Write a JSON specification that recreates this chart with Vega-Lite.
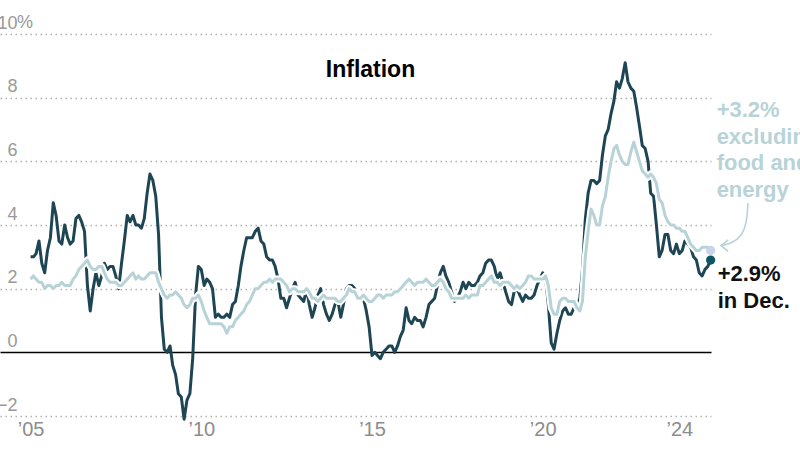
{
  "$schema": "https://vega.github.io/schema/vega-lite/v6.json",
  "autosize": {"type": "none"},
  "width": 711,
  "height": 382,
  "padding": {"left": 0, "top": 34, "right": 89, "bottom": 34},
  "background": "white",
  "config": {"view": {"stroke": null}, "font": "Liberation Sans"},
  "datasets": {
    "cpi": [
      {"date":"2005-01-01","headline":3.0,"core":2.3},{"date":"2005-02-01","headline":3.0,"core":2.4},{"date":"2005-03-01","headline":3.1,"core":2.3},{"date":"2005-04-01","headline":3.5,"core":2.2},{"date":"2005-05-01","headline":2.8,"core":2.2},{"date":"2005-06-01","headline":2.5,"core":2.0},{"date":"2005-07-01","headline":3.2,"core":2.1},{"date":"2005-08-01","headline":3.6,"core":2.1},{"date":"2005-09-01","headline":4.7,"core":2.0},{"date":"2005-10-01","headline":4.3,"core":2.1},{"date":"2005-11-01","headline":3.5,"core":2.1},{"date":"2005-12-01","headline":3.4,"core":2.2},
      {"date":"2006-01-01","headline":4.0,"core":2.1},{"date":"2006-02-01","headline":3.6,"core":2.1},{"date":"2006-03-01","headline":3.4,"core":2.1},{"date":"2006-04-01","headline":3.5,"core":2.3},{"date":"2006-05-01","headline":4.2,"core":2.4},{"date":"2006-06-01","headline":4.3,"core":2.6},{"date":"2006-07-01","headline":4.1,"core":2.7},{"date":"2006-08-01","headline":3.8,"core":2.8},{"date":"2006-09-01","headline":2.1,"core":2.9},{"date":"2006-10-01","headline":1.3,"core":2.7},{"date":"2006-11-01","headline":2.0,"core":2.6},{"date":"2006-12-01","headline":2.5,"core":2.6},
      {"date":"2007-01-01","headline":2.1,"core":2.7},{"date":"2007-02-01","headline":2.4,"core":2.7},{"date":"2007-03-01","headline":2.8,"core":2.5},{"date":"2007-04-01","headline":2.6,"core":2.3},{"date":"2007-05-01","headline":2.7,"core":2.2},{"date":"2007-06-01","headline":2.7,"core":2.2},{"date":"2007-07-01","headline":2.4,"core":2.2},{"date":"2007-08-01","headline":2.0,"core":2.1},{"date":"2007-09-01","headline":2.8,"core":2.1},{"date":"2007-10-01","headline":3.5,"core":2.2},{"date":"2007-11-01","headline":4.3,"core":2.3},{"date":"2007-12-01","headline":4.1,"core":2.4},
      {"date":"2008-01-01","headline":4.3,"core":2.5},{"date":"2008-02-01","headline":4.0,"core":2.3},{"date":"2008-03-01","headline":4.0,"core":2.4},{"date":"2008-04-01","headline":3.9,"core":2.3},{"date":"2008-05-01","headline":4.2,"core":2.3},{"date":"2008-06-01","headline":5.0,"core":2.4},{"date":"2008-07-01","headline":5.6,"core":2.5},{"date":"2008-08-01","headline":5.4,"core":2.5},{"date":"2008-09-01","headline":4.9,"core":2.5},{"date":"2008-10-01","headline":3.7,"core":2.2},{"date":"2008-11-01","headline":1.1,"core":2.0},{"date":"2008-12-01","headline":0.1,"core":1.8},
      {"date":"2009-01-01","headline":0.0,"core":1.7},{"date":"2009-02-01","headline":0.2,"core":1.8},{"date":"2009-03-01","headline":-0.4,"core":1.8},{"date":"2009-04-01","headline":-0.7,"core":1.9},{"date":"2009-05-01","headline":-1.3,"core":1.8},{"date":"2009-06-01","headline":-1.4,"core":1.7},{"date":"2009-07-01","headline":-2.1,"core":1.5},{"date":"2009-08-01","headline":-1.5,"core":1.4},{"date":"2009-09-01","headline":-1.3,"core":1.5},{"date":"2009-10-01","headline":-0.2,"core":1.7},{"date":"2009-11-01","headline":1.8,"core":1.7},{"date":"2009-12-01","headline":2.7,"core":1.8},
      {"date":"2010-01-01","headline":2.6,"core":1.6},{"date":"2010-02-01","headline":2.1,"core":1.3},{"date":"2010-03-01","headline":2.3,"core":1.1},{"date":"2010-04-01","headline":2.2,"core":0.9},{"date":"2010-05-01","headline":2.0,"core":0.9},{"date":"2010-06-01","headline":1.1,"core":0.9},{"date":"2010-07-01","headline":1.2,"core":0.9},{"date":"2010-08-01","headline":1.1,"core":0.9},{"date":"2010-09-01","headline":1.1,"core":0.8},{"date":"2010-10-01","headline":1.2,"core":0.6},{"date":"2010-11-01","headline":1.1,"core":0.8},{"date":"2010-12-01","headline":1.5,"core":0.8},
      {"date":"2011-01-01","headline":1.6,"core":1.0},{"date":"2011-02-01","headline":2.1,"core":1.1},{"date":"2011-03-01","headline":2.7,"core":1.2},{"date":"2011-04-01","headline":3.2,"core":1.3},{"date":"2011-05-01","headline":3.6,"core":1.5},{"date":"2011-06-01","headline":3.6,"core":1.6},{"date":"2011-07-01","headline":3.6,"core":1.8},{"date":"2011-08-01","headline":3.8,"core":2.0},{"date":"2011-09-01","headline":3.9,"core":2.0},{"date":"2011-10-01","headline":3.5,"core":2.1},{"date":"2011-11-01","headline":3.4,"core":2.2},{"date":"2011-12-01","headline":3.0,"core":2.2},
      {"date":"2012-01-01","headline":2.9,"core":2.3},{"date":"2012-02-01","headline":2.9,"core":2.2},{"date":"2012-03-01","headline":2.7,"core":2.3},{"date":"2012-04-01","headline":2.3,"core":2.3},{"date":"2012-05-01","headline":1.7,"core":2.3},{"date":"2012-06-01","headline":1.7,"core":2.2},{"date":"2012-07-01","headline":1.4,"core":2.1},{"date":"2012-08-01","headline":1.7,"core":1.9},{"date":"2012-09-01","headline":2.0,"core":2.0},{"date":"2012-10-01","headline":2.2,"core":2.0},{"date":"2012-11-01","headline":1.8,"core":1.9},{"date":"2012-12-01","headline":1.7,"core":1.9},
      {"date":"2013-01-01","headline":1.6,"core":1.9},{"date":"2013-02-01","headline":2.0,"core":2.0},{"date":"2013-03-01","headline":1.5,"core":1.9},{"date":"2013-04-01","headline":1.1,"core":1.7},{"date":"2013-05-01","headline":1.4,"core":1.7},{"date":"2013-06-01","headline":1.8,"core":1.6},{"date":"2013-07-01","headline":2.0,"core":1.7},{"date":"2013-08-01","headline":1.5,"core":1.8},{"date":"2013-09-01","headline":1.2,"core":1.7},{"date":"2013-10-01","headline":1.0,"core":1.7},{"date":"2013-11-01","headline":1.2,"core":1.7},{"date":"2013-12-01","headline":1.5,"core":1.7},
      {"date":"2014-01-01","headline":1.6,"core":1.6},{"date":"2014-02-01","headline":1.1,"core":1.6},{"date":"2014-03-01","headline":1.5,"core":1.7},{"date":"2014-04-01","headline":2.0,"core":1.8},{"date":"2014-05-01","headline":2.1,"core":2.0},{"date":"2014-06-01","headline":2.1,"core":1.9},{"date":"2014-07-01","headline":2.0,"core":1.9},{"date":"2014-08-01","headline":1.7,"core":1.7},{"date":"2014-09-01","headline":1.7,"core":1.7},{"date":"2014-10-01","headline":1.7,"core":1.8},{"date":"2014-11-01","headline":1.3,"core":1.7},{"date":"2014-12-01","headline":0.8,"core":1.6},
      {"date":"2015-01-01","headline":-0.1,"core":1.6},{"date":"2015-02-01","headline":0.0,"core":1.7},{"date":"2015-03-01","headline":-0.1,"core":1.8},{"date":"2015-04-01","headline":-0.2,"core":1.8},{"date":"2015-05-01","headline":0.0,"core":1.7},{"date":"2015-06-01","headline":0.1,"core":1.8},{"date":"2015-07-01","headline":0.2,"core":1.8},{"date":"2015-08-01","headline":0.2,"core":1.8},{"date":"2015-09-01","headline":0.0,"core":1.9},{"date":"2015-10-01","headline":0.2,"core":1.9},{"date":"2015-11-01","headline":0.5,"core":2.0},{"date":"2015-12-01","headline":0.7,"core":2.1},
      {"date":"2016-01-01","headline":1.4,"core":2.2},{"date":"2016-02-01","headline":1.0,"core":2.3},{"date":"2016-03-01","headline":0.9,"core":2.2},{"date":"2016-04-01","headline":1.1,"core":2.1},{"date":"2016-05-01","headline":1.0,"core":2.2},{"date":"2016-06-01","headline":1.0,"core":2.2},{"date":"2016-07-01","headline":0.8,"core":2.2},{"date":"2016-08-01","headline":1.1,"core":2.3},{"date":"2016-09-01","headline":1.5,"core":2.2},{"date":"2016-10-01","headline":1.6,"core":2.1},{"date":"2016-11-01","headline":1.7,"core":2.1},{"date":"2016-12-01","headline":2.1,"core":2.2},
      {"date":"2017-01-01","headline":2.5,"core":2.3},{"date":"2017-02-01","headline":2.7,"core":2.2},{"date":"2017-03-01","headline":2.4,"core":2.0},{"date":"2017-04-01","headline":2.2,"core":1.9},{"date":"2017-05-01","headline":1.9,"core":1.7},{"date":"2017-06-01","headline":1.6,"core":1.7},{"date":"2017-07-01","headline":1.7,"core":1.7},{"date":"2017-08-01","headline":1.9,"core":1.7},{"date":"2017-09-01","headline":2.2,"core":1.7},{"date":"2017-10-01","headline":2.0,"core":1.8},{"date":"2017-11-01","headline":2.2,"core":1.7},{"date":"2017-12-01","headline":2.1,"core":1.8},
      {"date":"2018-01-01","headline":2.1,"core":1.8},{"date":"2018-02-01","headline":2.2,"core":1.8},{"date":"2018-03-01","headline":2.4,"core":2.1},{"date":"2018-04-01","headline":2.5,"core":2.1},{"date":"2018-05-01","headline":2.8,"core":2.2},{"date":"2018-06-01","headline":2.9,"core":2.3},{"date":"2018-07-01","headline":2.9,"core":2.4},{"date":"2018-08-01","headline":2.7,"core":2.2},{"date":"2018-09-01","headline":2.3,"core":2.2},{"date":"2018-10-01","headline":2.5,"core":2.1},{"date":"2018-11-01","headline":2.2,"core":2.2},{"date":"2018-12-01","headline":1.9,"core":2.2},
      {"date":"2019-01-01","headline":1.6,"core":2.2},{"date":"2019-02-01","headline":1.5,"core":2.1},{"date":"2019-03-01","headline":1.9,"core":2.0},{"date":"2019-04-01","headline":2.0,"core":2.1},{"date":"2019-05-01","headline":1.8,"core":2.0},{"date":"2019-06-01","headline":1.6,"core":2.1},{"date":"2019-07-01","headline":1.8,"core":2.2},{"date":"2019-08-01","headline":1.7,"core":2.4},{"date":"2019-09-01","headline":1.7,"core":2.4},{"date":"2019-10-01","headline":1.8,"core":2.3},{"date":"2019-11-01","headline":2.1,"core":2.3},{"date":"2019-12-01","headline":2.3,"core":2.3},
      {"date":"2020-01-01","headline":2.5,"core":2.3},{"date":"2020-02-01","headline":2.3,"core":2.4},{"date":"2020-03-01","headline":1.5,"core":2.1},{"date":"2020-04-01","headline":0.3,"core":1.4},{"date":"2020-05-01","headline":0.1,"core":1.2},{"date":"2020-06-01","headline":0.6,"core":1.2},{"date":"2020-07-01","headline":1.0,"core":1.6},{"date":"2020-08-01","headline":1.3,"core":1.7},{"date":"2020-09-01","headline":1.4,"core":1.7},{"date":"2020-10-01","headline":1.2,"core":1.6},{"date":"2020-11-01","headline":1.2,"core":1.6},{"date":"2020-12-01","headline":1.4,"core":1.6},
      {"date":"2021-01-01","headline":1.4,"core":1.4},{"date":"2021-02-01","headline":1.7,"core":1.3},{"date":"2021-03-01","headline":2.6,"core":1.6},{"date":"2021-04-01","headline":4.2,"core":3.0},{"date":"2021-05-01","headline":5.0,"core":3.8},{"date":"2021-06-01","headline":5.4,"core":4.5},{"date":"2021-07-01","headline":5.4,"core":4.3},{"date":"2021-08-01","headline":5.3,"core":4.0},{"date":"2021-09-01","headline":5.4,"core":4.0},{"date":"2021-10-01","headline":6.2,"core":4.6},{"date":"2021-11-01","headline":6.8,"core":4.9},{"date":"2021-12-01","headline":7.0,"core":5.5},
      {"date":"2022-01-01","headline":7.5,"core":6.0},{"date":"2022-02-01","headline":7.9,"core":6.4},{"date":"2022-03-01","headline":8.5,"core":6.5},{"date":"2022-04-01","headline":8.3,"core":6.2},{"date":"2022-05-01","headline":8.6,"core":6.0},{"date":"2022-06-01","headline":9.1,"core":5.9},{"date":"2022-07-01","headline":8.5,"core":5.9},{"date":"2022-08-01","headline":8.3,"core":6.3},{"date":"2022-09-01","headline":8.2,"core":6.6},{"date":"2022-10-01","headline":7.7,"core":6.3},{"date":"2022-11-01","headline":7.1,"core":6.0},{"date":"2022-12-01","headline":6.5,"core":5.7},
      {"date":"2023-01-01","headline":6.4,"core":5.6},{"date":"2023-02-01","headline":6.0,"core":5.5},{"date":"2023-03-01","headline":5.0,"core":5.6},{"date":"2023-04-01","headline":4.9,"core":5.5},{"date":"2023-05-01","headline":4.0,"core":5.3},{"date":"2023-06-01","headline":3.0,"core":4.8},{"date":"2023-07-01","headline":3.2,"core":4.7},{"date":"2023-08-01","headline":3.7,"core":4.3},{"date":"2023-09-01","headline":3.7,"core":4.1},{"date":"2023-10-01","headline":3.2,"core":4.0},{"date":"2023-11-01","headline":3.1,"core":4.0},{"date":"2023-12-01","headline":3.4,"core":3.9},
      {"date":"2024-01-01","headline":3.1,"core":3.9},{"date":"2024-02-01","headline":3.2,"core":3.8},{"date":"2024-03-01","headline":3.5,"core":3.8},{"date":"2024-04-01","headline":3.4,"core":3.6},{"date":"2024-05-01","headline":3.3,"core":3.4},{"date":"2024-06-01","headline":3.0,"core":3.3},{"date":"2024-07-01","headline":2.9,"core":3.2},{"date":"2024-08-01","headline":2.5,"core":3.2},{"date":"2024-09-01","headline":2.4,"core":3.3},{"date":"2024-10-01","headline":2.6,"core":3.3},{"date":"2024-11-01","headline":2.7,"core":3.3},{"date":"2024-12-01","headline":2.9,"core":3.2}
    ],
    "arrowShaft": [
      {"date":"2026-01-04","value":4.69,"order":1},
      {"date":"2025-12-24","value":4.09,"order":2},
      {"date":"2025-10-30","value":3.65,"order":3},
      {"date":"2025-07-16","value":3.43,"order":4},
      {"date":"2025-03-22","value":3.35,"order":5}
    ],
    "arrowHead": [
      {"date":"2025-06-07","value":3.53,"order":1},
      {"date":"2025-03-22","value":3.35,"order":2},
      {"date":"2025-06-07","value":3.17,"order":3}
    ]
  },
  "layer": [
    {
      "data": {"name": "cpi"},
      "mark": {"type": "line", "color": "#1e4553", "strokeWidth": 3, "strokeJoin": "round"},
      "encoding": {
        "x": {
          "field": "date", "type": "temporal",
          "scale": {"domain": [{"year": 2004, "month": 2, "date": 9}, {"year": 2024, "month": 12, "date": 5}]},
          "axis": {
            "title": null, "domain": false, "ticks": false, "grid": false,
            "values": [{"year": 2005, "month": 1, "date": 1}, {"year": 2010, "month": 1, "date": 1}, {"year": 2015, "month": 1, "date": 1}, {"year": 2020, "month": 1, "date": 1}, {"year": 2024, "month": 1, "date": 1}],
            "labelExpr": "'’' + timeFormat(datum.value, '%y')",
            "labelPadding": 3, "labelFontSize": 20, "labelColor": "#8c8c8c", "labelFont": "Liberation Sans",
            "labelFlush": false, "labelOverlap": false
          }
        },
        "y": {
          "field": "headline", "type": "quantitative",
          "scale": {"domain": [-2, 10], "nice": false, "zero": false},
          "axis": {
            "title": null, "domain": false, "ticks": false, "grid": true,
            "values": [-2, 0, 2, 4, 6, 8, 10],
            "gridColor": {"condition": {"test": "datum.value === 0", "value": "#000000"}, "value": "#b0b0b0"},
            "gridDash": {"condition": {"test": "datum.value === 0", "value": []}, "value": [1.5, 3.5]},
            "gridWidth": 1.5,
            "labelExpr": "datum.value < 0 ? '−' + abs(datum.value) : '' + datum.value",
            "labelAlign": "right",
            "labelPadding": -17,
            "labelBaseline": "alphabetic", "labelOffset": -6,
            "labelFontSize": 18, "labelColor": "#999999", "labelFont": "Liberation Sans",
            "labelFlush": false, "labelOverlap": false
          }
        }
      }
    },
    {
      "data": {"name": "cpi"},
      "mark": {"type": "line", "color": "#ffffff", "strokeWidth": 7, "strokeJoin": "round"},
      "encoding": {
        "x": {"field": "date", "type": "temporal"},
        "y": {"field": "core", "type": "quantitative"}
      }
    },
    {
      "data": {"name": "cpi"},
      "mark": {"type": "line", "color": "#b7d3d8", "strokeWidth": 3, "strokeJoin": "round"},
      "encoding": {
        "x": {"field": "date", "type": "temporal"},
        "y": {"field": "core", "type": "quantitative"}
      }
    },
    {
      "data": {"name": "arrowShaft"},
      "mark": {"type": "line", "color": "#b7d3d8", "strokeWidth": 1.6, "interpolate": "basis"},
      "encoding": {
        "x": {"field": "date", "type": "temporal"},
        "y": {"field": "value", "type": "quantitative"},
        "order": {"field": "order", "type": "quantitative"}
      }
    },
    {
      "data": {"name": "arrowHead"},
      "mark": {"type": "line", "color": "#b7d3d8", "strokeWidth": 1.6},
      "encoding": {
        "x": {"field": "date", "type": "temporal"},
        "y": {"field": "value", "type": "quantitative"},
        "order": {"field": "order", "type": "quantitative"}
      }
    },
    {
      "data": {"values": [{}]},
      "mark": {"type": "text", "align": "center", "baseline": "alphabetic", "font": "Liberation Sans", "fontSize": 23, "fontWeight": "bold", "color": "#000000"},
      "encoding": {
        "x": {"datum": {"year": 2014, "month": 12, "date": 16}, "type": "temporal"},
        "y": {"datum": 8.65, "type": "quantitative"},
        "text": {"value": "Inflation"}
      }
    },
    {
      "data": {"values": [{}]},
      "mark": {"type": "text", "align": "left", "baseline": "alphabetic", "dx": 17, "dy": -6, "font": "Liberation Sans", "fontSize": 18, "color": "#999999"},
      "encoding": {
        "x": {"datum": {"year": 2004, "month": 2, "date": 9}, "type": "temporal"},
        "y": {"datum": 10, "type": "quantitative"},
        "text": {"value": "%"}
      }
    },
    {
      "data": {"name": "cpi"},
      "transform": [{"filter": "utcyear(datum.date) === 2024 && utcmonth(datum.date) === 11"}],
      "layer": [
        {
          "mark": {"type": "circle", "size": 85, "color": "#c9d3ea", "opacity": 1},
          "encoding": {
            "x": {"field": "date", "type": "temporal"},
            "y": {"field": "core", "type": "quantitative"}
          }
        },
        {
          "mark": {"type": "circle", "size": 85, "color": "#0e5566", "opacity": 1},
          "encoding": {
            "x": {"field": "date", "type": "temporal"},
            "y": {"field": "headline", "type": "quantitative"}
          }
        },
        {
          "mark": {"type": "text", "align": "left", "baseline": "alphabetic", "dx": 6, "dy": -133, "font": "Liberation Sans", "fontSize": 22, "fontWeight": "bold", "color": "#b7d3d8", "lineHeight": 26.5},
          "encoding": {
            "x": {"field": "date", "type": "temporal"},
            "y": {"field": "core", "type": "quantitative"},
            "text": {"value": ["+3.2%", "excluding", "food and", "energy"]}
          }
        },
        {
          "mark": {"type": "text", "align": "left", "baseline": "alphabetic", "dx": 7, "dy": 21, "font": "Liberation Sans", "fontSize": 22, "fontWeight": "bold", "color": "#111111", "lineHeight": 26.5},
          "encoding": {
            "x": {"field": "date", "type": "temporal"},
            "y": {"field": "headline", "type": "quantitative"},
            "text": {"value": ["+2.9%", "in Dec."]}
          }
        }
      ]
    }
  ]
}
